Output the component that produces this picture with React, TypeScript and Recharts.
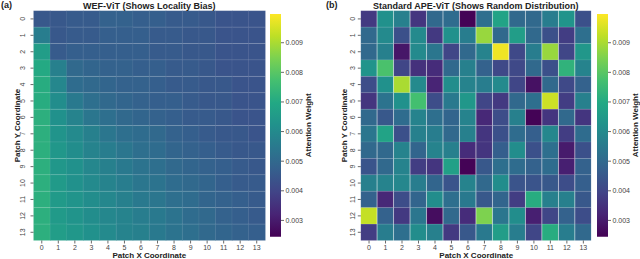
import React from 'react';
import { BarChart, Bar, XAxis, YAxis, Cell } from 'recharts';

const xCategories = [0, 1, 2, 3, 4, 5, 6, 7, 8, 9, 10, 11, 12, 13];
const yCategories = [0, 1, 2, 3, 4, 5, 6, 7, 8, 9, 10, 11, 12, 13];
const colorbarTicks = [0.003, 0.004, 0.005, 0.006, 0.007, 0.008, 0.009];
const V_MIN = 0.00245;
const V_MAX = 0.00997;

const titleA = 'WEF-ViT (Shows Locality Bias)';
const titleB = 'Standard APE-ViT (Shows Random Distribution)';
const xAxisTitle = 'Patch X Coordinate';
const yAxisTitle = 'Patch Y Coordinate';
const colorbarTitle = 'Attention Weight';

// rows = Patch Y (0..13), columns = Patch X (0..13)
const wefValues: number[][] = [
  [0.0045, 0.0045, 0.0046, 0.0046, 0.0048, 0.0048, 0.0047, 0.0047, 0.0046, 0.0046, 0.0045, 0.0044, 0.0044, 0.0044],
  [0.0056, 0.0045, 0.0046, 0.0046, 0.0047, 0.0047, 0.0047, 0.0046, 0.0046, 0.0045, 0.0045, 0.0044, 0.0044, 0.0044],
  [0.0066, 0.0046, 0.0047, 0.0047, 0.0047, 0.0047, 0.0047, 0.0046, 0.0046, 0.0045, 0.0045, 0.0044, 0.0044, 0.0044],
  [0.0070, 0.0057, 0.0050, 0.0049, 0.0048, 0.0048, 0.0047, 0.0047, 0.0046, 0.0046, 0.0045, 0.0044, 0.0044, 0.0044],
  [0.0071, 0.0059, 0.0051, 0.0050, 0.0049, 0.0048, 0.0048, 0.0047, 0.0046, 0.0046, 0.0045, 0.0045, 0.0044, 0.0044],
  [0.0071, 0.0061, 0.0055, 0.0052, 0.0050, 0.0049, 0.0048, 0.0047, 0.0047, 0.0046, 0.0045, 0.0045, 0.0044, 0.0044],
  [0.0072, 0.0062, 0.0058, 0.0054, 0.0052, 0.0050, 0.0049, 0.0048, 0.0047, 0.0046, 0.0046, 0.0045, 0.0044, 0.0044],
  [0.0072, 0.0063, 0.0060, 0.0057, 0.0054, 0.0052, 0.0051, 0.0050, 0.0048, 0.0047, 0.0046, 0.0045, 0.0045, 0.0044],
  [0.0072, 0.0064, 0.0061, 0.0058, 0.0056, 0.0054, 0.0052, 0.0051, 0.0049, 0.0048, 0.0047, 0.0046, 0.0045, 0.0045],
  [0.0072, 0.0064, 0.0062, 0.0059, 0.0057, 0.0055, 0.0053, 0.0052, 0.0050, 0.0049, 0.0048, 0.0047, 0.0046, 0.0045],
  [0.0072, 0.0065, 0.0062, 0.0060, 0.0058, 0.0056, 0.0054, 0.0053, 0.0051, 0.0050, 0.0049, 0.0047, 0.0046, 0.0046],
  [0.0072, 0.0065, 0.0063, 0.0061, 0.0059, 0.0057, 0.0055, 0.0054, 0.0052, 0.0051, 0.0049, 0.0048, 0.0047, 0.0046],
  [0.0072, 0.0065, 0.0063, 0.0061, 0.0059, 0.0058, 0.0056, 0.0055, 0.0053, 0.0051, 0.0050, 0.0048, 0.0047, 0.0046],
  [0.0072, 0.0066, 0.0064, 0.0062, 0.0060, 0.0058, 0.0057, 0.0055, 0.0053, 0.0052, 0.0050, 0.0049, 0.0048, 0.0047],
];

const apeValues: number[][] = [
  [0.0037, 0.0062, 0.0057, 0.0036, 0.0050, 0.0051, 0.0025, 0.0052, 0.0068, 0.0050, 0.0050, 0.0056, 0.0063, 0.0043],
  [0.0050, 0.0060, 0.0043, 0.0060, 0.0037, 0.0062, 0.0056, 0.0088, 0.0050, 0.0066, 0.0050, 0.0043, 0.0038, 0.0052],
  [0.0050, 0.0057, 0.0029, 0.0060, 0.0054, 0.0040, 0.0050, 0.0058, 0.0098, 0.0041, 0.0056, 0.0088, 0.0040, 0.0064],
  [0.0063, 0.0078, 0.0040, 0.0035, 0.0034, 0.0050, 0.0057, 0.0048, 0.0041, 0.0041, 0.0050, 0.0043, 0.0073, 0.0058],
  [0.0042, 0.0062, 0.0090, 0.0060, 0.0032, 0.0061, 0.0058, 0.0056, 0.0060, 0.0040, 0.0028, 0.0050, 0.0041, 0.0048],
  [0.0036, 0.0053, 0.0062, 0.0077, 0.0042, 0.0055, 0.0064, 0.0040, 0.0037, 0.0050, 0.0052, 0.0094, 0.0038, 0.0057],
  [0.0050, 0.0045, 0.0051, 0.0058, 0.0052, 0.0049, 0.0058, 0.0033, 0.0042, 0.0057, 0.0025, 0.0036, 0.0050, 0.0036],
  [0.0054, 0.0068, 0.0043, 0.0057, 0.0056, 0.0050, 0.0057, 0.0036, 0.0043, 0.0051, 0.0047, 0.0059, 0.0038, 0.0051],
  [0.0050, 0.0050, 0.0058, 0.0049, 0.0058, 0.0057, 0.0034, 0.0036, 0.0047, 0.0061, 0.0043, 0.0052, 0.0030, 0.0043],
  [0.0044, 0.0050, 0.0058, 0.0038, 0.0036, 0.0067, 0.0025, 0.0045, 0.0052, 0.0051, 0.0048, 0.0051, 0.0031, 0.0048],
  [0.0057, 0.0058, 0.0059, 0.0056, 0.0049, 0.0044, 0.0058, 0.0050, 0.0061, 0.0044, 0.0044, 0.0045, 0.0042, 0.0047],
  [0.0048, 0.0033, 0.0042, 0.0049, 0.0061, 0.0052, 0.0055, 0.0045, 0.0049, 0.0038, 0.0071, 0.0057, 0.0057, 0.0045],
  [0.0093, 0.0048, 0.0037, 0.0054, 0.0027, 0.0050, 0.0034, 0.0085, 0.0054, 0.0061, 0.0031, 0.0040, 0.0048, 0.0042],
  [0.0038, 0.0056, 0.0052, 0.0061, 0.0057, 0.0037, 0.0045, 0.0055, 0.0066, 0.0056, 0.0040, 0.0071, 0.0056, 0.0050],
];

const VIRIDIS = ['#440154', '#482475', '#414487', '#355f8d', '#2a788e', '#21918c', '#22a884', '#44bf70', '#7ad151', '#bddf26', '#fde725'];

function hexToRgb(h: string) {
  return [parseInt(h.slice(1, 3), 16), parseInt(h.slice(3, 5), 16), parseInt(h.slice(5, 7), 16)];
}

function viridis(v: number): string {
  let t = (v - V_MIN) / (V_MAX - V_MIN);
  t = Math.max(0, Math.min(1, t));
  const p = t * (VIRIDIS.length - 1);
  const i = Math.min(Math.floor(p), VIRIDIS.length - 2);
  const f = p - i;
  const a = hexToRgb(VIRIDIS[i]);
  const b = hexToRgb(VIRIDIS[i + 1]);
  const c = a.map((av, k) => Math.round(av + (b[k] - av) * f));
  return `rgb(${c[0]},${c[1]},${c[2]})`;
}

const FONT = '"Liberation Sans", Arial, Helvetica, sans-serif';
const TICK_COLOR = '#444';

const RotatedYTick = (props: any) => {
  const { x, y, payload } = props;
  const label = String(Math.round(payload.value - 0.5));
  return (
    <text
      x={x}
      y={y}
      transform={`rotate(-90 ${x} ${y})`}
      textAnchor="middle"
      fontSize={7}
      fill={TICK_COLOR}
      fontFamily={FONT}
    >
      {label}
    </text>
  );
};

const yTickPositions = yCategories.map((r) => r + 0.5);

type HeatProps = {
  values: number[][];
  left: number;
  width: number;
  yAxisWidth: number;
  marginRight: number;
  yTickMargin: number;
};

const Heatmap = ({ values, left, width, yAxisWidth, marginRight, yTickMargin }: HeatProps) => {
  const data = xCategories.map((x) => {
    const row: any = { x };
    yCategories.forEach((r) => {
      row[`r${r}`] = 1;
    });
    return row;
  });
  return (
    <div style={{ position: 'absolute', left, top: 0 }}>
      <BarChart
        width={width}
        height={259}
        data={data}
        margin={{ top: 10.7, right: marginRight, bottom: 0, left: 0 }}
        barCategoryGap={0}
        barGap={0}
      >
        <XAxis
          dataKey="x"
          type="category"
          height={18.5}
          tickSize={3}
          tickMargin={1.5}
          axisLine={false}
          tickLine={{ stroke: TICK_COLOR, strokeWidth: 0.8 }}
          tick={{ fontSize: 7, fill: TICK_COLOR, fontFamily: FONT }}
          interval={0}
        />
        <YAxis
          type="number"
          domain={[0, 14]}
          reversed
          ticks={yTickPositions}
          width={yAxisWidth}
          tickSize={3}
          tickMargin={yTickMargin}
          axisLine={false}
          tickLine={{ stroke: TICK_COLOR, strokeWidth: 0.8 }}
          tick={<RotatedYTick />}
          interval={0}
        />
        {yCategories.map((r) => (
          <Bar
            key={r}
            dataKey={`r${r}`}
            stackId="s"
            isAnimationActive={false}
            stroke="rgba(255,255,255,0.09)"
            strokeWidth={0.8}
          >
            {xCategories.map((x) => (
              <Cell key={x} fill={viridis(values[r][x])} />
            ))}
          </Bar>
        ))}
      </BarChart>
    </div>
  );
};

const Colorbar = ({ left }: { left: number }) => {
  const data = [{ name: 'cb', range: [V_MIN, V_MAX] }];
  return (
    <div style={{ position: 'absolute', left, top: 0 }}>
      <BarChart
        width={50}
        height={259}
        data={data}
        margin={{ top: 14, right: 0, bottom: 22.3, left: 0 }}
        barCategoryGap={0}
      >
        <XAxis dataKey="name" hide />
        <YAxis
          orientation="right"
          type="number"
          domain={[V_MIN, V_MAX]}
          ticks={colorbarTicks}
          tickFormatter={(v: number) => v.toFixed(3)}
          width={39}
          tickSize={3}
          tickMargin={1.5}
          axisLine={false}
          tickLine={{ stroke: TICK_COLOR, strokeWidth: 0.8 }}
          tick={{ fontSize: 7, fill: TICK_COLOR, fontFamily: FONT }}
          interval={0}
        />
        <Bar dataKey="range" fill="url(#viridisGrad)" isAnimationActive={false} />
      </BarChart>
    </div>
  );
};

export default function App() {
  const gradStops = VIRIDIS.map((c, i) => ({ offset: 1 - i / (VIRIDIS.length - 1), color: c })).reverse();
  return (
    <div style={{ position: 'absolute', left: 0, top: 0, width: 640, height: 259, background: '#fff', overflow: 'hidden', fontFamily: FONT }}>
      <svg width={0} height={0} style={{ position: 'absolute' }}>
        <defs>
          <linearGradient id="viridisGrad" x1="0" y1="0" x2="0" y2="1">
            {gradStops.map((s, i) => (
              <stop key={i} offset={s.offset} stopColor={s.color} />
            ))}
          </linearGradient>
        </defs>
      </svg>
      <Heatmap values={wefValues} left={0} width={270} yAxisWidth={33.5} marginRight={5} yTickMargin={5.7} />
      <Colorbar left={270} />
      <Heatmap values={apeValues} left={320} width={276} yAxisWidth={40.8} marginRight={4.4} yTickMargin={3} />
      <Colorbar left={596.7} />
      <svg width={640} height={259} style={{ position: 'absolute', left: 0, top: 0, pointerEvents: 'none' }} fontFamily={FONT}>
        <text x={1} y={8.3} fontSize={9} fontWeight="bold" fill="#222">(a)</text>
        <text x={149.3} y={8.5} fontSize={9} fontWeight="bold" fill="#222" textAnchor="middle">{titleA}</text>
        <text x={326} y={8.3} fontSize={9} fontWeight="bold" fill="#222">(b)</text>
        <text x={475.8} y={8.5} fontSize={9} fontWeight="bold" fill="#222" textAnchor="middle">{titleB}</text>
        <text x={149.3} y={257.6} fontSize={8} fontWeight="bold" fill="#222" textAnchor="middle">{xAxisTitle}</text>
        <text x={476.2} y={257.6} fontSize={8} fontWeight="bold" fill="#222" textAnchor="middle">{xAxisTitle}</text>
        <text x={20.2} y={125.5} fontSize={8} fontWeight="bold" fill="#222" textAnchor="middle" transform="rotate(-90 20.2 125.5)">{yAxisTitle}</text>
        <text x={346.9} y={125.5} fontSize={8} fontWeight="bold" fill="#222" textAnchor="middle" transform="rotate(-90 346.9 125.5)">{yAxisTitle}</text>
        <text x={310.9} y={125.3} fontSize={8} fontWeight="bold" fill="#222" textAnchor="middle" transform="rotate(-90 310.9 125.3)">{colorbarTitle}</text>
        <text x={637.8} y={125.3} fontSize={8} fontWeight="bold" fill="#222" textAnchor="middle" transform="rotate(-90 637.8 125.3)">{colorbarTitle}</text>
      </svg>
    </div>
  );
}
